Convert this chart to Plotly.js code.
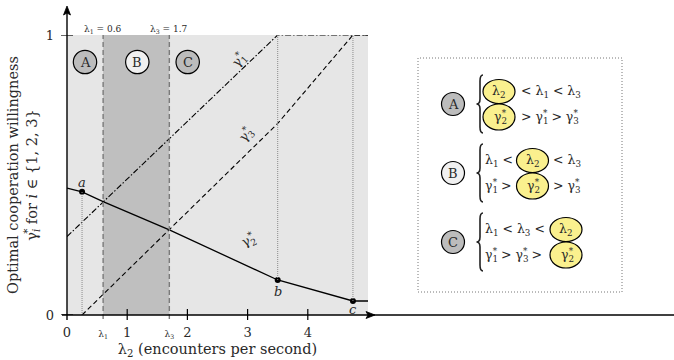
<!DOCTYPE html>
<html>
<head>
<meta charset="utf-8">
<script src="https://cdn.plot.ly/plotly-3.0.1.min.js"></script>
<style>
html,body{margin:0;padding:0;background:#fff;}
#chart{width:674px;height:360px;}
</style>
</head>
<body>
<div id="chart"></div>
<script>
// ---------------- data ----------------
const lambda1 = 0.6;
const lambda3 = 1.7;
const lambda2Max = 5;

const gamma1X = [0, 3.5, 5];
const gamma1Y = [0.28, 1, 1];

const gamma2X = [0, 0.25, 0.6, 1.7, 3.5, 4.75, 5];
const gamma2Y = [0.453, 0.44, 0.405, 0.304, 0.125, 0.05, 0.05];

const gamma3X = [0.25, 1.7, 3.5, 4.75, 5];
const gamma3Y = [0, 0.304, 0.684, 1, 1];

const pointNames = ['a', 'b', 'c'];
const pointX = [0.25, 3.5, 4.75];
const pointY = [0.44, 0.125, 0.05];

const xTickVals = [0, lambda1, 1, lambda3, 2, 3, 4];
const xTickText = ['0', '<span style="font-size:9px">λ<sub>1</sub></span>', '1',
                   '<span style="font-size:9px">λ<sub>3</sub></span>', '2', '3', '4'];
const yTickVals = [0, 1];
const yTickText = ['0', '1'];

const regionNames = ['A', 'B', 'C'];
const regionFills = ['#bcbcbc', '#f0f0f0', '#bcbcbc'];

// ---------------- geometry helpers (pixel -> paper) ----------------
const L = 67, R = 306, T = 35, B = 45, W = 674, H = 360;
const PW = W - L - R, PH = H - T - B;
const px = p => (p - L) / PW;
const py = p => (H - B - p) / PH;

const FONT = 'DejaVu Serif';
const TXT = '#2a2a2a';
const LEG = 12.5;

// gamma with star stacked above subscript
const gs = k => 'γ<sub><span style="letter-spacing:-0.62em">' + k + '</span></sub><sup>*</sup>';

const shapes = [];
const annotations = [];

shapes.push({type: 'rect', xref: 'x', yref: 'y', x0: 0, x1: lambda2Max, y0: 0, y1: 1,
  fillcolor: '#e6e6e6', line: {width: 0}, layer: 'below'});
shapes.push({type: 'rect', xref: 'x', yref: 'y', x0: lambda1, x1: lambda3, y0: 0, y1: 1,
  fillcolor: '#bfbfbf', line: {width: 0}, layer: 'below'});
[lambda1, lambda3].forEach(v => {
  shapes.push({type: 'line', xref: 'x', yref: 'paper', x0: v, x1: v, y0: py(319), y1: 1,
    line: {color: '#7a7a7a', width: 1.4, dash: '5px,3px'}});
});

shapes.push({type: 'line', xref: 'x', yref: 'y', x0: pointX[0], x1: pointX[0], y0: 0, y1: pointY[0],
  line: {color: '#8a8a8a', width: 1, dash: '1px,1px'}});
shapes.push({type: 'line', xref: 'x', yref: 'y', x0: pointX[1], x1: pointX[1], y0: pointY[1], y1: 1,
  line: {color: '#8a8a8a', width: 1, dash: '1px,1px'}});
shapes.push({type: 'line', xref: 'x', yref: 'y', x0: pointX[2], x1: pointX[2], y0: pointY[2], y1: 1,
  line: {color: '#8a8a8a', width: 1, dash: '1px,1px'}});

shapes.push({type: 'line', xref: 'paper', yref: 'paper', x0: px(62), x1: px(674), y0: 0, y1: 0,
  line: {color: '#000', width: 1.4}});
shapes.push({type: 'line', xref: 'paper', yref: 'paper', x0: 0, x1: 0, y0: py(320), y1: py(10),
  line: {color: '#000', width: 1.4}});
shapes.push({type: 'path', xref: 'paper', yref: 'paper',
  path: `M ${px(375)} ${py(315)} L ${px(366)} ${py(311.5)} L ${px(368)} ${py(315)} L ${px(366)} ${py(318.5)} Z`,
  fillcolor: '#000', line: {color: '#000', width: 0.8}});
shapes.push({type: 'path', xref: 'paper', yref: 'paper',
  path: `M ${px(67)} ${py(6)} L ${px(63.5)} ${py(15)} L ${px(67)} ${py(13)} L ${px(70.5)} ${py(15)} Z`,
  fillcolor: '#000', line: {color: '#000', width: 0.8}});

[1, 2, 3, 4].forEach(v => {
  shapes.push({type: 'line', xref: 'x', yref: 'paper', x0: v, x1: v, y0: py(320), y1: py(309),
    line: {color: '#000', width: 1.2}});
});
yTickVals.forEach(v => {
  shapes.push({type: 'line', xref: 'paper', yref: 'y', x0: px(61), x1: px(73), y0: v, y1: v,
    line: {color: '#000', width: 1.2}});
});

function circ(cx, cy, rx, ry, fill, lw) {
  shapes.push({type: 'circle', xref: 'paper', yref: 'paper',
    x0: px(cx - rx), x1: px(cx + rx), y0: py(cy + ry), y1: py(cy - ry),
    fillcolor: fill, line: {color: '#000', width: lw || 1.2}});
}
function txt(text, x, y, size, opts) {
  annotations.push(Object.assign({text: text, xref: 'paper', yref: 'paper', x: px(x), y: py(y),
    showarrow: false, font: {family: FONT, size: size, color: TXT}, xanchor: 'center', yanchor: 'middle'}, opts || {}));
}
const circPix = [85, 137.3, 187.7];
regionNames.forEach((n, i) => {
  circ(circPix[i], 62, 11.7, 11.7, regionFills[i]);
  txt(n, circPix[i], 62.5, 13);
});

annotations.push({text: 'λ<sub>1</sub> = 0.6', xref: 'x', yref: 'paper', x: lambda1, y: py(29),
  showarrow: false, font: {family: FONT, size: 9, color: TXT}, xanchor: 'center', yanchor: 'middle'});
annotations.push({text: 'λ<sub>3</sub> = 1.7', xref: 'x', yref: 'paper', x: lambda3, y: py(29),
  showarrow: false, font: {family: FONT, size: 9, color: TXT}, xanchor: 'center', yanchor: 'middle'});

annotations.push({text: gs(1), x: 2.85, y: py(46), xref: 'x', yref: 'paper', showarrow: false,
  textangle: -48, font: {family: FONT, size: 13, color: TXT}});
annotations.push({text: gs(3), x: 2.98, y: py(134), xref: 'x', yref: 'paper', showarrow: false,
  textangle: -48, font: {family: FONT, size: 13, color: TXT}});
annotations.push({text: gs(2), x: 3.02, y: py(254), xref: 'x', yref: 'paper', showarrow: false,
  textangle: -25, font: {family: FONT, size: 13, color: TXT}});

const pointLabelShift = [[0, 9], [0, -11], [0, -8]];
pointNames.forEach((n, i) => {
  annotations.push({text: '<i>' + n + '</i>', x: pointX[i], y: pointY[i], xref: 'x', yref: 'y', showarrow: false,
    xshift: pointLabelShift[i][0], yshift: pointLabelShift[i][1],
    font: {family: FONT, size: 13, color: TXT}});
});

shapes.push({type: 'rect', xref: 'paper', yref: 'paper', x0: px(418), x1: px(622), y0: py(292), y1: py(58),
  fillcolor: 'rgba(0,0,0,0)', line: {color: '#777', width: 1, dash: '1px,2px'}});

const rowY = [104, 173, 242];
const yellow = '#faf08e';
function brace(x, yTop, yBot) {
  const m = (yTop + yBot) / 2;
  const p = `M ${px(x + 3)} ${py(yTop)} Q ${px(x)} ${py(yTop)} ${px(x)} ${py(yTop + 6)} ` +
            `L ${px(x)} ${py(m - 5)} Q ${px(x)} ${py(m)} ${px(x - 3.5)} ${py(m)} ` +
            `Q ${px(x)} ${py(m)} ${px(x)} ${py(m + 5)} L ${px(x)} ${py(yBot - 6)} ` +
            `Q ${px(x)} ${py(yBot)} ${px(x + 3)} ${py(yBot)}`;
  shapes.push({type: 'path', xref: 'paper', yref: 'paper', path: p, line: {color: '#222', width: 1.6}});
}
const g1 = gs(1), g2 = gs(2), g3 = gs(3);
const l1 = 'λ<sub>1</sub>', l2 = 'λ<sub>2</sub>', l3 = 'λ<sub>3</sub>';
const ellX = [499, 532.5, 566];
regionNames.forEach((n, i) => {
  const cy = rowY[i];
  circ(453, cy, 11.5, 11.5, regionFills[i]);
  txt(n, 453, cy + 0.5, 13);
  brace(480, cy - 29, cy + 29);
  const y1 = cy - 12.5, y2 = cy + 13;
  circ(ellX[i], y1, 16, 12, yellow);
  circ(ellX[i], y2, 16, 13, yellow);
  txt(l2, ellX[i], y1, LEG);
  txt(g2, ellX[i] + 1, y2, LEG);
});
txt('&lt; ' + l1 + ' &lt; ' + l3, 519, 91.5, LEG, {xanchor: 'left'});
txt('&gt; ' + g1 + ' &gt; ' + g3, 519, 117, LEG, {xanchor: 'left'});
txt(l1 + ' &lt;', 483, 160.5, LEG, {xanchor: 'left'});
txt('&lt; ' + l3, 551, 160.5, LEG, {xanchor: 'left'});
txt(g1 + ' &gt;', 483, 186, LEG, {xanchor: 'left'});
txt('&gt; ' + g3, 551, 186, LEG, {xanchor: 'left'});
txt(l1 + ' &lt; ' + l3 + ' &lt;', 483, 229.5, LEG, {xanchor: 'left'});
txt(g1 + ' &gt; ' + g3 + ' &gt;', 483, 255, LEG, {xanchor: 'left'});

const traces = [
  {x: gamma1X, y: gamma1Y, mode: 'lines', line: {color: '#000', width: 1.1, dash: '6px,2px,1.5px,2px'}, name: 'γ1*'},
  {x: gamma3X, y: gamma3Y, mode: 'lines', line: {color: '#000', width: 1.1, dash: '5px,3px'}, name: 'γ3*'},
  {x: gamma2X, y: gamma2Y, mode: 'lines', line: {color: '#000', width: 1.3}, name: 'γ2*'},
  {x: pointX, y: pointY, mode: 'markers', marker: {color: '#000', size: 6}, name: 'points'}
];

const layout = {
  width: W, height: H,
  margin: {l: L, r: R, t: T, b: B, pad: 0},
  paper_bgcolor: '#fff', plot_bgcolor: 'rgba(0,0,0,0)',
  showlegend: false,
  font: {family: FONT, color: TXT},
  xaxis: {
    range: [0, lambda2Max], showgrid: false, zeroline: false, showline: false, ticks: '',
    tickvals: xTickVals, ticktext: xTickText, tickfont: {family: FONT, size: 13, color: TXT},
    ticklabelstandoff: 8,
    title: {text: 'λ<sub>2</sub> (encounters per second)', font: {family: FONT, size: 14.5, color: TXT}, standoff: 4}
  },
  yaxis: {
    range: [0, 1], showgrid: false, zeroline: false, showline: false, ticks: '',
    tickvals: yTickVals, ticktext: yTickText, tickfont: {family: FONT, size: 13, color: TXT},
    ticklabelstandoff: 12,
    title: {text: 'Optimal cooperation willingness<br>' + 'γ<sub><span style="letter-spacing:-0.5em"><i>i</i></span></sub><sup>*</sup> for <i>i</i> ∈ {1, 2, 3}',
      font: {family: FONT, size: 14.5, color: TXT}, standoff: 4}
  },
  shapes: shapes,
  annotations: annotations
};

Plotly.newPlot('chart', traces, layout, {displayModeBar: false, staticPlot: true});
</script>
</body>
</html>
